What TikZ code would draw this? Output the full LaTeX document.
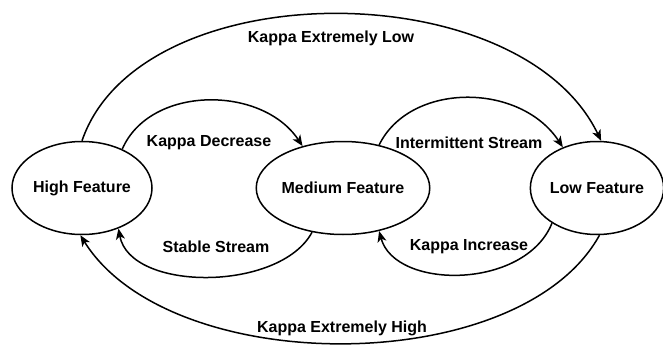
\documentclass[tikz,border=0pt]{standalone}
\usepackage{fontspec}
\setmainfont{Liberation Sans}
\usetikzlibrary{shapes.geometric,arrows.meta}
\begin{document}
\begin{tikzpicture}[x=1pt,y=-1pt,
  state/.style={ellipse,draw,line width=1.5pt,minimum width=140pt,minimum height=93pt,inner sep=0pt,font=\fontsize{16}{18}\selectfont\bfseries},
  conn/.style={line width=1.5pt,-{Stealth[length=11pt,width=9pt,inset=3pt]}},
  lbl/.style={font=\fontsize{16}{18}\selectfont\bfseries,inner sep=1pt}]
\useasboundingbox (0,0) rectangle (663,345);
\node[state] (H) at (82,188) {High Feature};
\node[state] (M) at (343,188) {Medium Feature};
\node[state,minimum width=132pt] (L) at (597,188) {Low Feature};
% top outer
\draw[conn] (H.90) .. controls (140,-28) and (520,-28) .. (L.85);
\node[lbl] (l1) at (331,38) {Kappa Extremely Low};
% Kappa Decrease
\draw[conn] (H.44) .. controls (150,85) and (262,85) .. (M.134);
\node[lbl] (l2) at (209,143) {Kappa Decrease};
% Intermittent
\draw[conn] (M.50) .. controls (410,82) and (520,82) .. (L.130);
\node[lbl] (l3) at (469,143) {Intermittent Stream};
% Stable Stream
\draw[conn] (M.235) .. controls (280,292) and (130,292) .. (H.312);
\node[lbl] (l4) at (216,247) {Stable Stream};
% Kappa Increase
\draw[conn] (L.218) .. controls (525,290) and (395,290) .. (M.310);
\node[lbl] (l5) at (469,247) {Kappa Increase};
% bottom outer
\draw[conn] (L.273) .. controls (520,379) and (170,379) .. (H.268);
\node[lbl] (l6) at (342,328) {Kappa Extremely High};
\end{tikzpicture}
\end{document}
